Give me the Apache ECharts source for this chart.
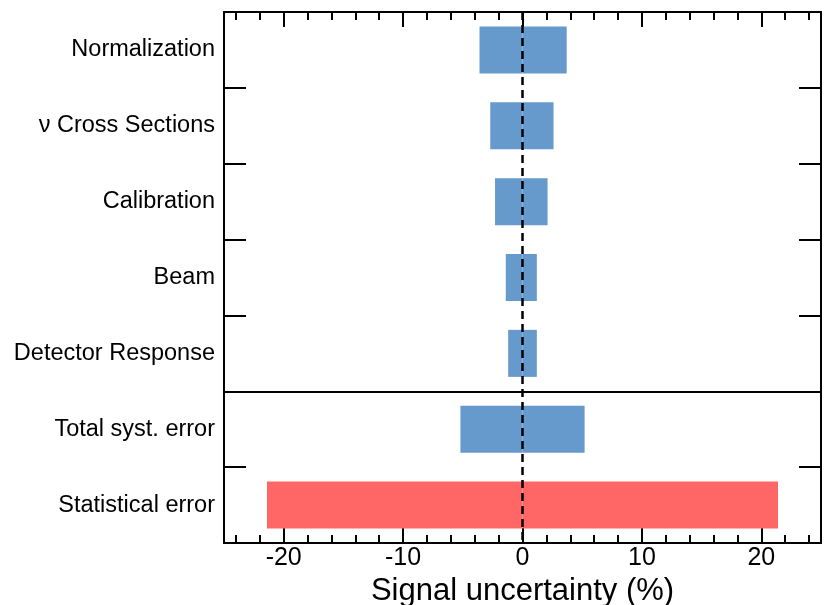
<!DOCTYPE html>
<html><head><meta charset="utf-8">
<script src="https://cdn.jsdelivr.net/npm/echarts@6/dist/echarts.min.js"></script>
<style>html,body{margin:0;padding:0;background:#fff}#c{width:824px;height:605px}</style>
</head><body><div id="c"></div>
<script>
const categories = ['Normalization', 'ν Cross Sections', 'Calibration', 'Beam', 'Detector Response', 'Total syst. error', 'Statistical error'];
const lowValues = [-3.6, -2.7, -2.3, -1.4, -1.2, -5.2, -21.4];
const highValues = [3.7, 2.6, 2.1, 1.2, 1.2, 5.2, 21.4];
const majorTicks = [-20, -10, 0, 10, 20];
const minorTicks = [-24, -22, -20, -18, -16, -14, -12, -10, -8, -6, -4, -2, 0, 2, 4, 6, 8, 10, 12, 14, 16, 18, 20, 22, 24];
const axisTitle = 'Signal uncertainty (%)';

const SANS = "'Liberation Sans', Arial, Helvetica, sans-serif";
const BLUE = '#6699cc', RED = '#ff6666';
const line = { color: '#000', width: 2 };

function xAx(pos, ticks, len, main) {
  return {
    type: 'value', min: -25, max: 25, position: pos,
    axisLine: { show: main, onZero: false, lineStyle: line },
    axisTick: { show: true, inside: true, length: len, customValues: ticks, lineStyle: line },
    axisLabel: (main && pos === 'bottom') ? {
      show: true, customValues: majorTicks, fontSize: 25, fontFamily: SANS, color: '#000', margin: 3
    } : { show: false },
    splitLine: { show: false },
    name: (main && pos === 'bottom') ? axisTitle : '',
    nameLocation: 'middle', nameGap: 25,
    nameTextStyle: { fontSize: 31, fontFamily: SANS, color: '#000' }
  };
}
function yAx(pos) {
  return {
    type: 'category', data: categories, inverse: true, position: pos,
    axisLine: { show: true, onZero: false, lineStyle: line },
    axisTick: { show: true, inside: true, length: 22, lineStyle: line },
    axisLabel: pos === 'left' ? { show: true, fontSize: 23.5, fontFamily: SANS, color: '#000', margin: 9 } : { show: false },
    splitLine: pos === 'left' ? { show: true, interval: (i) => i === 0 || i === 5, lineStyle: line } : { show: false }
  };
}
const colorFn = (p) => p.dataIndex === categories.length - 1 ? RED : BLUE;

const chart = echarts.init(document.getElementById('c'), null, { renderer: 'canvas' });
chart.setOption({
  animation: false,
  backgroundColor: '#fff',
  grid: { left: 224, right: 3, top: 12, bottom: 62, containLabel: false, outerBoundsMode: 'none' },
  xAxis: [xAx('bottom', majorTicks, 15, true), xAx('bottom', minorTicks, 8, false), xAx('top', majorTicks, 15, true), xAx('top', minorTicks, 8, false)],
  yAxis: [yAx('left'), yAx('right')],
  series: [
    {
      type: 'bar', stack: 'u', data: lowValues, xAxisIndex: 0, yAxisIndex: 0,
      barCategoryGap: '38%', itemStyle: { color: colorFn },
      markLine: {
        silent: true, symbol: ['none', 'none'], label: { show: false },
        lineStyle: { type: [8, 5], width: 2.5, color: '#000' },
        data: [{ xAxis: 0 }]
      }
    },
    {
      type: 'bar', stack: 'u', data: highValues, xAxisIndex: 0, yAxisIndex: 0,
      barCategoryGap: '38%', itemStyle: { color: colorFn }
    }
  ]
});
</script></body></html>
